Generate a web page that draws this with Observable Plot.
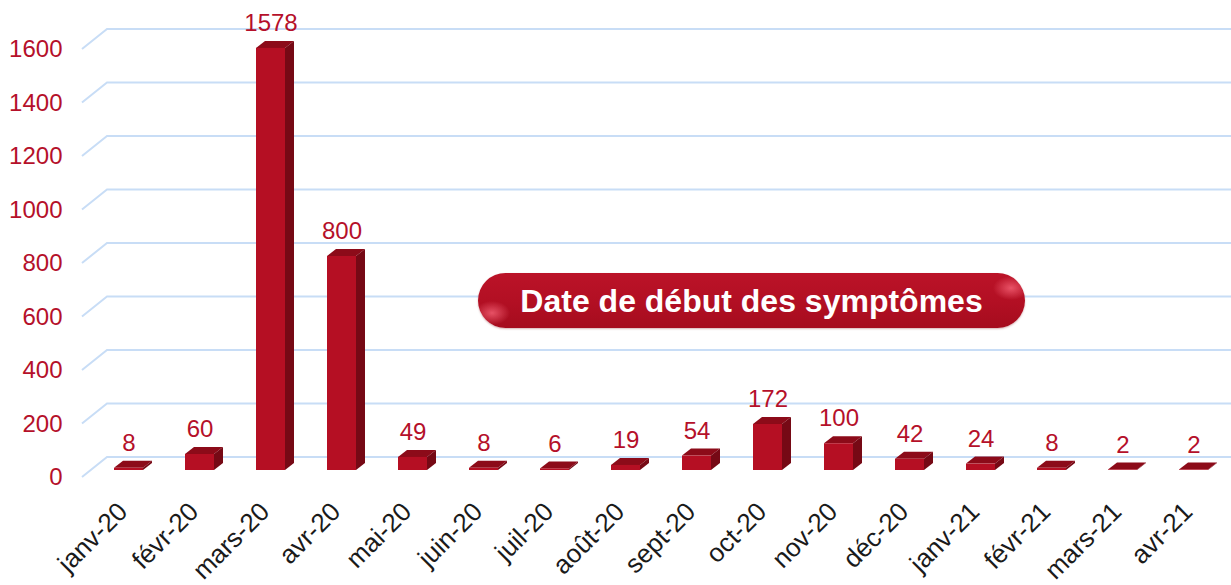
<!DOCTYPE html>
<html>
<head>
<meta charset="utf-8">
<script src="https://cdn.jsdelivr.net/npm/d3@7"></script>
<script src="https://cdn.jsdelivr.net/npm/@observablehq/plot@0.6"></script>
<style>
  html, body { margin: 0; padding: 0; background: #fff; }
  #wrap { position: relative; width: 1231px; height: 585px; overflow: hidden; font-family: "Liberation Sans", Arial, sans-serif; }
  #pill {
    position: absolute; left: 478px; top: 273px; width: 547px; height: 55px;
    border-radius: 28px; box-sizing: border-box;
    background:
      radial-gradient(ellipse 18px 12px at 14px 40px, rgba(255,110,130,0.7), rgba(255,110,130,0) 100%),
      radial-gradient(ellipse 18px 12px at 533px 15px, rgba(255,110,130,0.7), rgba(255,110,130,0) 100%),
      linear-gradient(#bb1328, #b20f23 55%, #a50c1e);
    color: #fff; font-weight: bold; font-size: 32px; line-height: 57px; text-align: center;
    box-shadow: 0 1px 2px rgba(120,0,10,0.3);
  }
</style>
</head>
<body>
<div id="wrap"></div>
<script>
const months = ["janv-20","févr-20","mars-20","avr-20","mai-20","juin-20","juil-20","août-20","sept-20","oct-20","nov-20","déc-20","janv-21","févr-21","mars-21","avr-21"];
const cases = [8, 60, 1578, 800, 49, 8, 6, 19, 54, 172, 100, 42, 24, 8, 2, 2];
const yTicks = [0, 200, 400, 600, 800, 1000, 1200, 1400, 1600];
const title = "Date de début des symptômes";

const data = months.map((m, i) => ({month: m, cases: cases[i]}));

const RED = "#b50f23", TOP = "#8c0b19", SIDE = "#760915", LABEL_RED = "#b5102a";
const GRID = "#c8ddf6";
const PAD_INNER = 0.595, PAD_OUTER = 0.2975;
// depth geometry (pixels)
const FLOOR_DX = 25, FLOOR_FRONT = 7, FLOOR_BACK = 13;
const BAR_DX = 9, BAR_DY = 7;

function gridMark(index, scales, values, dims) {
  const g = d3.create("svg:g").attr("fill", "none").attr("stroke", GRID).attr("stroke-width", 2);
  const left = dims.marginLeft, right = dims.width - dims.marginRight;
  for (const v of yTicks) {
    const y = scales.y(v);
    g.append("path").attr("d", `M${left - FLOOR_DX},${y + FLOOR_FRONT}L${left},${y - FLOOR_BACK}L${right},${y - FLOOR_BACK}`);
  }
  return g.node();
}

function bar3dMark(index, scales, values, dims) {
  const g = d3.create("svg:g");
  const x = scales.x, y = scales.y;
  let bw = typeof x.bandwidth === "function" ? x.bandwidth() : x.bandwidth;
  const step = x(months[1]) - x(months[0]);
  if (!(bw > 0)) bw = step * (1 - PAD_INNER);
  const y0 = y(0);
  for (const d of data) {
    const x0 = x(d.month), x1 = x0 + bw, yt = y(d.cases);
    g.append("path").attr("fill", TOP)
      .attr("d", `M${x0},${yt}L${x0 + BAR_DX},${yt - BAR_DY}L${x1 + BAR_DX},${yt - BAR_DY}L${x1},${yt}Z`);
    g.append("path").attr("fill", SIDE)
      .attr("d", `M${x1},${yt}L${x1 + BAR_DX},${yt - BAR_DY}L${x1 + BAR_DX},${y0 - BAR_DY}L${x1},${y0}Z`);
    g.append("rect").attr("fill", RED).attr("x", x0).attr("y", yt).attr("width", bw).attr("height", Math.max(0, y0 - yt));
  }
  return g.node();
}

const chart = Plot.plot({
  width: 1231,
  height: 585,
  marginTop: 42,
  marginBottom: 115,
  marginLeft: 107,
  marginRight: 0,
  style: {fontFamily: "'Liberation Sans', Arial, sans-serif", background: "transparent", overflow: "visible"},
  x: {type: "band", domain: months, range: [89.3, 1232.7], paddingInner: PAD_INNER, paddingOuter: PAD_OUTER, axis: null},
  y: {domain: [0, 1600], axis: null},
  marks: [
    gridMark,
    bar3dMark,
    Plot.text(data, {x: "month", y: "cases", text: d => String(d.cases), dy: -25, fill: LABEL_RED, fontSize: 24}),
    Plot.text(yTicks, {y: d => d, text: d => String(d), frameAnchor: "left", dx: -45, dy: 7, textAnchor: "end", fill: LABEL_RED, fontSize: 24}),
    Plot.text(months, {x: d => d, text: d => d, frameAnchor: "bottom", rotate: -45, textAnchor: "end", lineAnchor: "middle", dx: -6, dy: 37, fill: "#1a1a1a", fontSize: 26})
  ]
});

const wrap = document.getElementById("wrap");
wrap.appendChild(chart);
const pill = document.createElement("div");
pill.id = "pill";
pill.textContent = title;
wrap.appendChild(pill);
</script>
</body>
</html>
